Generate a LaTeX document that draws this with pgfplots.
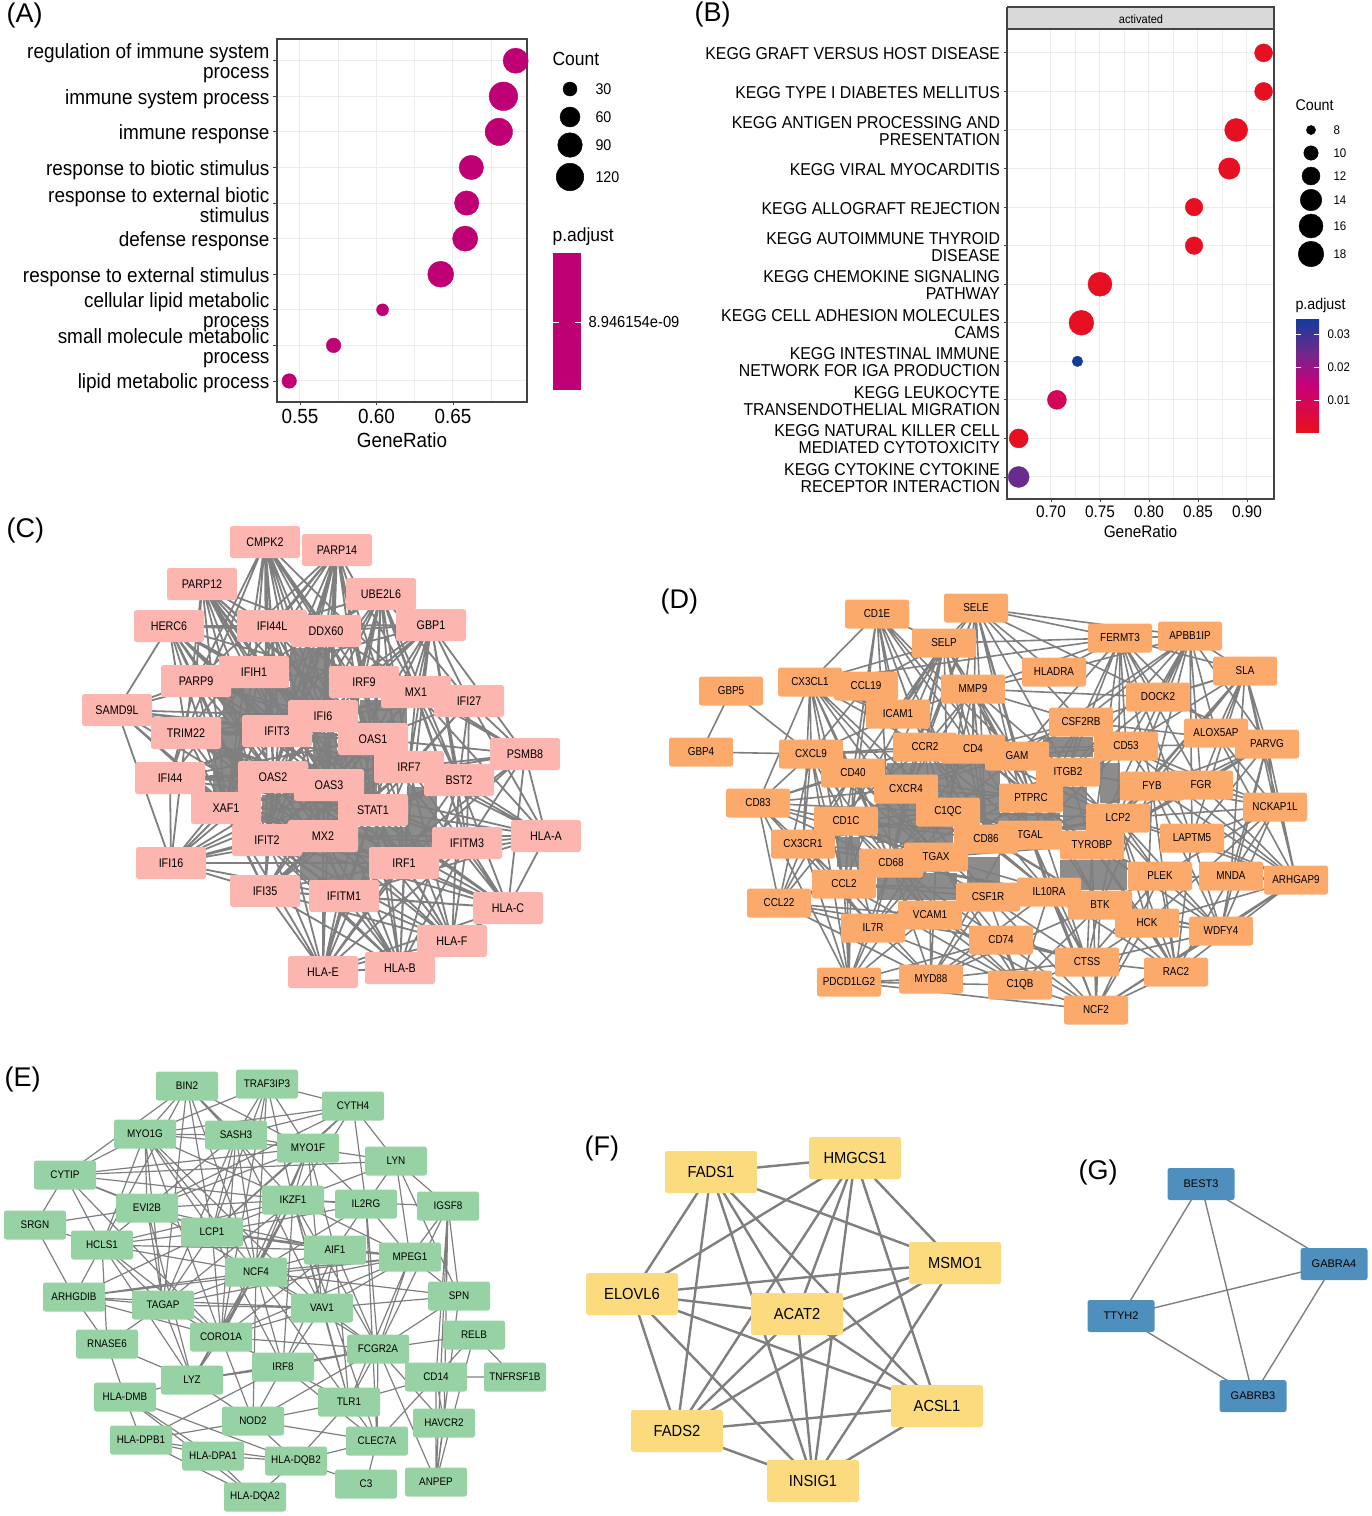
\documentclass[border=0pt]{standalone}
\usepackage{pgfplots}
\pgfplotsset{compat=1.18}
\usepackage{fontspec}
\setmainfont{Liberation Sans}
\newfontfamily\cond[FakeStretch=0.92]{Liberation Sans}
\newfontfamily\narrow[FakeStretch=0.86]{Liberation Sans}
\newfontfamily\semi[FakeStretch=0.9]{Liberation Sans}
\newcommand\fs[1]{\fontsize{#1}{#1}\selectfont}
\definecolor{edge}{HTML}{7F7F7F}
\definecolor{blob}{HTML}{8C8C8C}
\definecolor{fr}{HTML}{444444}
\definecolor{gr}{HTML}{EBEBEB}
\definecolor{mag}{HTML}{BE0074}
\definecolor{cpink}{HTML}{FDB5B0}
\definecolor{corange}{HTML}{FCAA6C}
\definecolor{cgreen}{HTML}{97D2A4}
\definecolor{cyellow}{HTML}{FCDB7E}
\definecolor{cblue}{HTML}{4F8FBE}
\pgfplotsset{
  bub/.style={scatter,only marks,mark=*,
    visualization depends on={\thisrow{r}\as\rr},
    scatter/@pre marker code/.append style={/tikz/mark size=\rr pt}},
  patch/.style={fill=blob,draw=none,mark=none},
  net/.style n args={4}{draw=none,mark=none,point meta=explicit symbolic,
    nodes near coords,nodes near coords align=center,
    every node near coord/.append style={anchor=center,fill=#1,rounded corners=2.5pt,inner sep=0pt,
      minimum width=#2pt,minimum height=#3pt,text=black,font=#4}},
  dot/.style={axis line style={color=fr,line width=1.1pt},
    tick style={color=fr,line width=.8pt},major tick length=3.5pt,tick align=outside,
    xtick pos=bottom,ytick pos=left,
    grid=major,major grid style={color=gr,line width=1pt},
    minor tick length=0pt,minor grid style={color=gr,line width=.5pt},xminorgrids=true,
    yticklabel style={align=right}}
}
\begin{document}
\begin{tikzpicture}
\path[use as bounding box] (0,0) rectangle (1372pt,1516pt);
\begin{axis}[at={(0,0)},anchor=south west,width=1372pt,height=1516pt,scale only axis,
  hide axis,clip=false,xmin=0,xmax=1372,ymin=0,ymax=1516,y dir=reverse]

% panel letters
\node[anchor=west,font=\fs{27}] at (axis cs:3,16) {(A)};
\node[anchor=west,font=\fs{27}] at (axis cs:691,15) {(B)};
\node[anchor=west,font=\fs{27}] at (axis cs:3,531) {(C)};
\node[anchor=west,font=\fs{27}] at (axis cs:657,602) {(D)};
\node[anchor=west,font=\fs{27}] at (axis cs:1,1079) {(E)};
\node[anchor=west,font=\fs{27}] at (axis cs:581,1148) {(F)};
\node[anchor=west,font=\fs{27}] at (axis cs:1075,1172) {(G)};

% legends of panel A
\node[anchor=west,font=\cond\fs{19}] at (axis cs:549,59) {Count};
\addplot[scatter/use mapped color={draw=black,fill=black},bub] table {
x y r
570 89 7
570 117 10
570 145 12.3
570 177 13.8
};
\node[anchor=west,font=\cond\fs{15.5}] at (axis cs:592,89) {30};
\node[anchor=west,font=\cond\fs{15.5}] at (axis cs:592,117) {60};
\node[anchor=west,font=\cond\fs{15.5}] at (axis cs:592,145) {90};
\node[anchor=west,font=\cond\fs{15.5}] at (axis cs:592,177) {120};
\node[anchor=west,font=\cond\fs{19}] at (axis cs:549,237) {p.adjust};
\addplot[fill=mag,draw=none,mark=none] coordinates {(553,253)(581,253)(581,390)(553,390)};
\addplot[white,line width=.7pt,mark=none] coordinates {(553,322)(559,322)};
\addplot[white,line width=.7pt,mark=none] coordinates {(575,322)(581,322)};
\node[anchor=west,font=\cond\fs{16}] at (axis cs:585,322) {8.946154e-09};

% strip and legends of panel B
\addplot[fill=gray!30,draw=fr,line width=1.1pt,mark=none] coordinates {(1007,7)(1274,7)(1274,29)(1007,29)(1007,7)};
\node[font=\cond\fs{12}] at (axis cs:1141,19) {activated};
\node[anchor=west,font=\cond\fs{15.5}] at (axis cs:1292,105) {Count};
\addplot[scatter/use mapped color={draw=black,fill=black},bub] table {
x y r
1311 130 4.6
1311 153 7.2
1311 176 9
1311 200 10.8
1311 226 12
1311 254 12.8
};
\node[anchor=west,font=\cond\fs{12.5}] at (axis cs:1330,130) {8};
\node[anchor=west,font=\cond\fs{12.5}] at (axis cs:1330,153) {10};
\node[anchor=west,font=\cond\fs{12.5}] at (axis cs:1330,176) {12};
\node[anchor=west,font=\cond\fs{12.5}] at (axis cs:1330,200) {14};
\node[anchor=west,font=\cond\fs{12.5}] at (axis cs:1330,226) {16};
\node[anchor=west,font=\cond\fs{12.5}] at (axis cs:1330,254) {18};
\node[anchor=west,font=\cond\fs{15.5}] at (axis cs:1292,305) {p.adjust};
\shade[bottom color={rgb,255:red,232;green,17;blue,27},top color={rgb,255:red,200;green,0;blue,122}] (axis cs:1296,432) rectangle (axis cs:1319,385);
\shade[bottom color={rgb,255:red,200;green,0;blue,122},top color={rgb,255:red,106;green,42;blue,142}] (axis cs:1296,385.2) rectangle (axis cs:1319,350);
\shade[bottom color={rgb,255:red,106;green,42;blue,142},top color={rgb,255:red,18;green,60;blue,156}] (axis cs:1296,350.2) rectangle (axis cs:1319,319);
\addplot[white,line width=.6pt,mark=none] coordinates {(1296,334)(1301,334)};
\addplot[white,line width=.6pt,mark=none] coordinates {(1314,334)(1319,334)};
\addplot[white,line width=.6pt,mark=none] coordinates {(1296,367)(1301,367)};
\addplot[white,line width=.6pt,mark=none] coordinates {(1314,367)(1319,367)};
\addplot[white,line width=.6pt,mark=none] coordinates {(1296,400)(1301,400)};
\addplot[white,line width=.6pt,mark=none] coordinates {(1314,400)(1319,400)};
\node[anchor=west,font=\cond\fs{12.5}] at (axis cs:1324,334) {0.03};
\node[anchor=west,font=\cond\fs{12.5}] at (axis cs:1324,367) {0.02};
\node[anchor=west,font=\cond\fs{12.5}] at (axis cs:1324,400) {0.01};

% network C
\addplot[patch] coordinates {(290,648)(330,648)(330,702)(290,702)};
\addplot[patch] coordinates {(360,700)(407,700)(407,753)(360,753)};
\addplot[patch] coordinates {(223,687)(290,687)(290,717)(223,717)};
\addplot[patch] coordinates {(213,717)(243,717)(243,793)(213,793)};
\addplot[patch] coordinates {(313,733)(337,733)(337,773)(313,773)};
\addplot[patch] coordinates {(337,753)(377,753)(377,797)(337,797)};
\addplot[patch] coordinates {(262,795)(338,795)(338,823)(262,823)};
\addplot[patch] coordinates {(408,787)(437,787)(437,830)(408,830)};
\addplot[patch] coordinates {(357,827)(433,827)(433,850)(357,850)};
\addplot[patch] coordinates {(300,850)(370,850)(370,880)(300,880)};
\addplot[color=edge,line width=1.8pt,line join=round,mark=none] coordinates {
(265,542)(272,626)(337,550)(254,672)(265,542)(326,631)(337,550)(196,681)(265,542)(364,682)(337,550)(323,716)(265,542)(416,692)(337,550)(279,731)(265,542)(373,739)(337,550)(186,733)(265,542)(409,767)(337,550)(273,777)(265,542)(329,785)(337,550)(226,808)(265,542)(373,810)(337,550)(323,836)(265,542)(267,840)(337,550)(404,863)
(202,584)(272,626)(169,626)(254,672)(202,584)(326,631)(169,626)(196,681)(202,584)(364,682)(169,626)(323,716)(202,584)(279,731)(169,626)(186,733)(202,584)(373,739)(169,626)(409,767)(202,584)(273,777)(169,626)(329,785)(202,584)(226,808)(169,626)(373,810)(202,584)(267,840)(169,626)(323,836)
(381,594)(326,631)(431,625)(416,692)(381,594)(364,682)(431,625)(469,701)(381,594)(323,716)(431,625)(373,739)(381,594)(279,731)(431,625)(409,767)(381,594)(272,626)(431,625)(459,780)(381,594)(254,672)(431,625)(467,843)(381,594)(273,777)(431,625)(329,785)(381,594)(373,810)(431,625)(404,863)(381,594)(323,836)
(169,626)(117,710)(186,733)(170,778)(196,681)(117,710)(254,672)(170,778)(279,731)(117,710)(323,716)(170,778)(273,777)(117,710)(226,808)(170,778)(329,785)(117,710)(373,739)(170,778)(267,840)(117,710)(409,767)(170,778)(323,836)(117,710)(373,810)(170,778)(171,863)(117,710)(171,863)
(226,808)(265,891)(267,840)(171,863)(273,777)(265,891)(323,836)(171,863)(329,785)(265,891)(373,810)(171,863)(186,733)(265,891)(344,896)(171,863)(279,731)(265,891)(404,863)(171,863)(373,739)(265,891)(409,767)(171,863)(267,840)(171,863)(265,891)
(323,972)(344,896)(400,968)(404,863)(323,972)(265,891)(400,968)(373,810)(323,972)(267,840)(400,968)(323,836)(323,972)(329,785)(400,968)(467,843)(323,972)(273,777)(400,968)(409,767)(323,972)(226,808)(400,968)(459,780)(323,972)(373,739)(400,968)(508,908)(323,972)(404,863)(400,968)(452,941)(323,972)(400,968)
(452,941)(404,863)(508,908)(467,843)(452,941)(373,810)(508,908)(459,780)(452,941)(323,836)(508,908)(409,767)(452,941)(329,785)(508,908)(373,739)(452,941)(344,896)(508,908)(273,777)(452,941)(267,840)(508,908)(265,891)(452,941)(508,908)
(546,836)(467,843)(525,754)(459,780)(546,836)(409,767)(525,754)(373,810)(546,836)(404,863)(525,754)(329,785)(546,836)(373,739)(525,754)(323,836)(546,836)(344,896)(525,754)(416,692)(546,836)(508,908)(525,754)(469,701)(546,836)(459,780)(525,754)(409,767)(546,836)(373,810)(525,754)(467,843)(546,836)(525,754)
(469,701)(373,739)(416,692)(409,767)(469,701)(459,780)(416,692)(467,843)(469,701)(323,716)(416,692)(364,682)(469,701)(409,767)(416,692)(459,780)(469,701)(373,810)(431,625)(525,754)
(326,631)(323,716)(272,626)(279,731)(326,631)(373,739)(272,626)(364,682)(254,672)(323,716)(326,631)(273,777)(272,626)(329,785)(254,672)(373,739)(364,682)(279,731)(326,631)(329,785)(272,626)(323,836)(254,672)(323,836)(326,631)(267,840)(323,716)(329,785)(373,739)(267,840)(364,682)(273,777)(326,631)(373,810)(272,626)(226,808)(254,672)(226,808)(196,681)(323,716)(186,733)(373,739)(196,681)(279,731)(186,733)(273,777)(196,681)(329,785)(186,733)(373,810)(196,681)(267,840)(186,733)(323,836)(226,808)(373,810)(273,777)(267,840)(329,785)(226,808)(323,836)(373,810)(373,739)(226,808)(409,767)(267,840)(409,767)(323,836)(404,863)(267,840)(373,810)(404,863)(329,785)(404,863)(344,896)(323,836)(467,843)(373,810)(459,780)(409,767)(373,739)(416,692)(279,731)(364,682)(329,785)(416,692)(323,716)(373,739)(459,780)(273,777)(409,767)(329,785)(467,843)(323,836)(459,780)(267,840)(404,863)(273,777)(467,843)(373,810)(344,896)(267,840)(344,896)(226,808)
};
\addplot[net={cpink}{70}{32}{\narrow\fs{12.5}},table/meta=n] table {
x y n
265 542 CMPK2
337 550 PARP14
202 584 PARP12
381 594 UBE2L6
169 626 HERC6
272 626 IFI44L
326 631 DDX60
431 625 GBP1
196 681 PARP9
254 672 IFIH1
364 682 IRF9
416 692 MX1
469 701 IFI27
117 710 SAMD9L
323 716 IFI6
277 731 IFIT3
186 733 TRIM22
373 739 OAS1
525 754 PSMB8
409 767 IRF7
459 780 BST2
170 778 IFI44
273 777 OAS2
329 785 OAS3
226 808 XAF1
373 810 STAT1
546 836 HLA-A
467 843 IFITM3
267 840 IFIT2
323 836 MX2
171 863 IFI16
404 863 IRF1
265 891 IFI35
344 896 IFITM1
508 908 HLA-C
452 941 HLA-F
323 972 HLA-E
400 968 HLA-B
};

% network D
\addplot[patch] coordinates {(877,803)(953,803)(953,843)(877,843)};
\addplot[patch] coordinates {(837,837)(860,837)(860,867)(837,867)};
\addplot[patch] coordinates {(877,873)(957,873)(957,900)(877,900)};
\addplot[patch] coordinates {(937,763)(1000,763)(1000,823)(937,823)};
\addplot[patch] coordinates {(887,763)(937,763)(937,777)(887,777)};
\addplot[patch] coordinates {(967,857)(1000,857)(1000,883)(967,883)};
\addplot[patch] coordinates {(1043,737)(1093,737)(1093,757)(1043,757)};
\addplot[patch] coordinates {(1063,787)(1087,787)(1087,830)(1063,830)};
\addplot[patch] coordinates {(1100,763)(1120,763)(1120,803)(1100,803)};
\addplot[patch] coordinates {(1000,813)(1060,813)(1060,825)(1000,825)};
\addplot[patch] coordinates {(1060,860)(1127,860)(1127,890)(1060,890)};
\addplot[color=edge,line width=1.6pt,line join=round,mark=none] coordinates {
(701,752)(731,691)(811,754)(701,752)
};
\addplot[color=edge,line width=1.6pt,line join=round,mark=none] coordinates {
(877,614)(866,686)(944,643)(898,714)(877,614)(925,747)(944,643)(853,773)(877,614)(906,789)(944,643)(846,821)(877,614)(973,749)(944,643)(948,812)(877,614)(986,839)(944,643)(891,863)(877,614)(1017,756)(944,643)(844,884)(877,614)(1031,798)(944,643)(810,682)(877,614)(944,643)(1120,638)(1190,636)
(976,608)(898,714)(973,689)(925,747)(976,608)(906,789)(973,689)(973,749)(976,608)(948,812)(973,689)(1017,756)(976,608)(1054,672)(973,689)(1068,772)(976,608)(1120,638)(973,689)(1081,722)(976,608)(1031,798)(973,689)(986,839)(976,608)(1030,835)(973,689)(1158,697)(976,608)(944,643)
(810,682)(866,686)(811,754)(898,714)(810,682)(925,747)(811,754)(853,773)(810,682)(906,789)(811,754)(846,821)(810,682)(948,812)(811,754)(973,749)(810,682)(936,857)(811,754)(891,863)(810,682)(803,844)(811,754)(844,884)(810,682)(758,803)(811,754)(810,682)
(1120,638)(1054,672)(1190,636)(1081,722)(1120,638)(1158,697)(1190,636)(1126,746)(1120,638)(1017,756)(1190,636)(1068,772)(1120,638)(1152,786)(1190,636)(1118,818)(1120,638)(1245,671)(1190,636)(1216,733)(1120,638)(1201,785)(1190,636)(1092,845)(1120,638)(1192,838)(1190,636)(1267,744)
(1245,671)(1158,697)(1267,744)(1216,733)(1245,671)(1126,746)(1267,744)(1081,722)(1245,671)(1152,786)(1267,744)(1201,785)(1245,671)(1118,818)(1267,744)(1275,807)(1245,671)(1192,838)(1267,744)(1296,880)(1245,671)(1231,876)(1267,744)(1092,845)(1245,671)(1275,807)
(1201,785)(1296,880)(1216,733)(1275,807)(1152,786)(1296,880)(1192,838)(1275,807)(1160,876)(1296,880)(1231,876)(1275,807)(1221,931)(1296,880)(1118,818)(1275,807)(1147,923)(1296,880)(1126,746)(1275,807)(1267,744)
(1221,931)(1231,876)(1176,972)(1160,876)(1221,931)(1192,838)(1176,972)(1147,923)(1221,931)(1100,905)(1176,972)(1092,845)(1221,931)(1118,818)(1176,972)(1049,892)(1221,931)(1087,962)(1176,972)(1152,786)(1221,931)(1096,1010)(1176,972)(1296,880)
(1096,1010)(1020,985)(1087,962)(1001,940)(1096,1010)(1100,905)(1087,962)(1147,923)(1096,1010)(1049,892)(1087,962)(1030,835)(1096,1010)(988,897)(1087,962)(1092,845)(1096,1010)(1160,876)(1087,962)(1176,972)(1096,1010)(930,915)(1087,962)(1031,798)
(931,979)(873,928)(1020,985)(930,915)(931,979)(988,897)(1020,985)(1001,940)(931,979)(891,863)(1020,985)(936,857)(931,979)(1100,905)(1020,985)(1049,892)(931,979)(1087,962)(1020,985)(849,982)(931,979)(844,884)(1020,985)(1096,1010)
(849,982)(873,928)(779,903)(844,884)(849,982)(930,915)(779,903)(891,863)(849,982)(846,821)(779,903)(803,844)(849,982)(936,857)(779,903)(1001,940)(849,982)(931,979)(779,903)(758,803)(849,982)(853,773)(779,903)(811,754)(849,982)
(758,803)(811,754)(803,844)(853,773)(758,803)(846,821)(803,844)(906,789)(758,803)(844,884)(803,844)(891,863)(758,803)(948,812)(803,844)(779,903)(758,803)(873,928)(803,844)(925,747)(758,803)(936,857)(803,844)
(906,789)(891,863)(948,812)(846,821)(936,857)(853,773)(986,839)(925,747)(1030,835)(973,749)(1031,798)(1017,756)(1068,772)(1092,845)(1118,818)(1100,905)(1049,892)(988,897)(930,915)(891,863)(1001,940)(936,857)(986,839)(948,812)(1030,835)(906,789)(1031,798)(853,773)(936,857)(925,747)(891,863)(973,749)(986,839)(846,821)(988,897)(844,884)(1049,892)(891,863)(1100,905)(936,857)(1092,845)(986,839)(1068,772)(948,812)(1017,756)(906,789)(1081,722)(973,749)(1126,746)(1031,798)(1118,818)(1030,835)(1152,786)(1068,772)(1160,876)(1092,845)(1147,923)(1049,892)(1087,962)(988,897)(1020,985)(930,915)(931,979)(891,863)(873,928)(936,857)(844,884)(948,812)(873,928)(846,821)(930,915)(853,773)(891,863)(846,821)(936,857)
(986,839)(1049,892)(1030,835)(1092,845)(1031,798)(1100,905)(1017,756)(1118,818)(973,749)(1092,845)(925,747)(1049,892)(948,812)(1100,905)(906,789)(988,897)(853,773)(1030,835)(846,821)(986,839)(891,863)(1068,772)(936,857)(1031,798)(948,812)(1118,818)(986,839)(1126,746)(1030,835)(1081,722)(1031,798)(1092,845)(1152,786)(1118,818)(1192,838)(1126,746)(1201,785)(1092,845)(1160,876)(1118,818)(1147,923)(1152,786)(1100,905)(1160,876)(1068,772)(1081,722)(1017,756)(1126,746)(1068,772)(1158,697)
};
\addplot[net={corange}{64}{29}{\narrow\fs{11.5}},table/meta=n] table {
x y n
877 614 CD1E
976 608 SELE
944 643 SELP
810 682 CX3CL1
866 686 CCL19
973 689 MMP9
898 714 ICAM1
731 691 GBP5
701 752 GBP4
811 754 CXCL9
925 747 CCR2
973 749 CD4
853 773 CD40
906 789 CXCR4
758 803 CD83
948 812 C1QC
846 821 CD1C
803 844 CX3CR1
1030 835 TGAL
986 839 CD86
891 863 CD68
936 857 TGAX
844 884 CCL2
779 903 CCL22
988 897 CSF1R
930 915 VCAM1
873 928 IL7R
1001 940 CD74
849 982 PDCD1LG2
931 979 MYD88
1020 985 C1QB
1120 638 FERMT3
1190 636 APBB1IP
1054 672 HLADRA
1245 671 SLA
1158 697 DOCK2
1081 722 CSF2RB
1126 746 CD53
1267 744 PARVG
1216 733 ALOX5AP
1017 756 GAM
1068 772 ITGB2
1152 786 FYB
1201 785 FGR
1031 798 PTPRC
1275 807 NCKAP1L
1118 818 LCP2
1192 838 LAPTM5
1092 845 TYROBP
1160 876 PLEK
1231 876 MNDA
1296 880 ARHGAP9
1049 892 IL10RA
1100 905 BTK
1147 923 HCK
1221 931 WDFY4
1087 962 CTSS
1176 972 RAC2
1096 1010 NCF2
};

% network E
\addplot[color=edge,line width=1.2pt,line join=round,mark=none] coordinates {
(65,1175)(187,1086)(145,1134)(267,1084)(236,1135)(187,1086)(308,1148)(267,1084)(353,1106)(308,1148)(236,1135)(353,1106)(145,1134)(236,1135)(187,1086)(212,1232)(145,1134)(256,1272)(187,1086)(293,1200)(267,1084)(212,1232)(236,1135)(256,1272)(308,1148)(293,1200)(353,1106)(396,1161)(448,1206)(459,1296)(410,1257)(448,1206)(378,1349)(459,1296)
(396,1161)(366,1204)(353,1106)(366,1204)(410,1257)(293,1200)(366,1204)(335,1250)(410,1257)(378,1349)(366,1204)(308,1148)(335,1250)(322,1308)(293,1200)(256,1272)(335,1250)(212,1232)(293,1200)(221,1337)(308,1148)(322,1308)(236,1135)(221,1337)(293,1200)(65,1175)
(35,1225)(74,1297)(102,1245)(35,1225)(147,1208)(65,1175)(102,1245)(145,1134)(147,1208)(236,1135)(102,1245)(187,1086)(163,1305)(145,1134)(221,1337)(65,1175)(212,1232)(102,1245)(256,1272)(74,1297)(212,1232)(163,1305)(256,1272)(221,1337)(212,1232)(74,1297)(163,1305)(102,1245)(107,1344)(74,1297)(221,1337)(102,1245)(192,1380)(163,1305)(221,1337)(283,1367)(256,1272)(349,1402)(293,1200)(163,1305)(74,1297)(322,1308)(163,1305)(107,1344)(192,1380)(107,1344)(125,1397)(141,1440)
(213,1456)(296,1461)(125,1397)(255,1497)(141,1440)(296,1461)(255,1497)(213,1456)(125,1397)(192,1380)(283,1367)(378,1349)(192,1380)(253,1421)(283,1367)(349,1402)(378,1349)(377,1441)(283,1367)(141,1440)(253,1421)(349,1402)(377,1441)(253,1421)(296,1461)(349,1402)(436,1377)(378,1349)(474,1335)(515,1377)(436,1377)(444,1423)(378,1349)(436,1482)(444,1423)(448,1206)(436,1482)(459,1296)(378,1349)(253,1421)(377,1441)(366,1484)(296,1461)(377,1441)(436,1377)(474,1335)(436,1482)(436,1377)(448,1206)
(410,1257)(322,1308)(459,1296)(256,1272)(322,1308)(349,1402)(410,1257)(221,1337)(335,1250)(283,1367)(256,1272)(378,1349)(335,1250)(349,1402)(293,1200)(283,1367)(212,1232)(283,1367)(322,1308)(378,1349)(366,1204)(377,1441)(293,1200)(192,1380)(256,1272)(253,1421)(221,1337)(192,1380)(147,1208)(293,1200)(102,1245)(335,1250)(147,1208)(212,1232)(145,1134)(293,1200)(163,1305)(410,1257)(74,1297)(256,1272)(147,1208)(163,1305)(236,1135)(322,1308)(145,1134)(308,1148)(396,1161)(293,1200)(448,1206)(378,1349)(322,1308)(221,1337)(378,1349)(293,1200)(410,1257)(256,1272)(267,1084)(221,1337)(65,1175)(308,1148)(147,1208)(353,1106)(212,1232)(308,1148)(256,1272)(366,1204)(212,1232)(410,1257)(396,1161)(65,1175)(145,1134)
};
\addplot[net={cgreen}{62}{29}{\semi\fs{11}},table/meta=n] table {
x y n
187 1086 BIN2
267 1084 TRAF3IP3
353 1106 CYTH4
145 1134 MYO1G
236 1135 SASH3
308 1148 MYO1F
396 1161 LYN
65 1175 CYTIP
147 1208 EVI2B
293 1200 IKZF1
366 1204 IL2RG
448 1206 IGSF8
35 1225 SRGN
212 1232 LCP1
102 1245 HCLS1
335 1250 AIF1
410 1257 MPEG1
256 1272 NCF4
74 1297 ARHGDIB
163 1305 TAGAP
322 1308 VAV1
459 1296 SPN
107 1344 RNASE6
221 1337 CORO1A
378 1349 FCGR2A
474 1335 RELB
283 1367 IRF8
192 1380 LYZ
436 1377 CD14
515 1377 TNFRSF1B
125 1397 HLA-DMB
349 1402 TLR1
444 1423 HAVCR2
253 1421 NOD2
141 1440 HLA-DPB1
377 1441 CLEC7A
213 1456 HLA-DPA1
296 1461 HLA-DQB2
366 1484 C3
436 1482 ANPEP
255 1497 HLA-DQA2
};

% network F
\addplot[color=edge,line width=2.4pt,line join=round,mark=none] coordinates {
(632,1294)(711,1172)(855,1158)(632,1294)(955,1263)(855,1158)(677,1431)(711,1172)(813,1481)(855,1158)(797,1314)(711,1172)(955,1263)(797,1314)(632,1294)(937,1406)(711,1172)(937,1406)(797,1314)(677,1431)(955,1263)(813,1481)(797,1314)(855,1158)(937,1406)(677,1431)(632,1294)(813,1481)(937,1406)(813,1481)(677,1431)
};
\addplot[net={cyellow}{92}{42}{\cond\fs{16}},table/meta=n] table {
x y n
711 1172 FADS1
855 1158 HMGCS1
955 1263 MSMO1
632 1294 ELOVL6
797 1314 ACAT2
937 1406 ACSL1
677 1431 FADS2
813 1481 INSIG1
};

% network G
\addplot[color=edge,line width=1.4pt,line join=round,mark=none] coordinates {
(1201,1184)(1334,1264)(1121,1316)(1201,1184)(1253,1396)(1334,1264)
};
\addplot[color=edge,line width=1.4pt,line join=round,mark=none] coordinates {
(1121,1316)(1253,1396)
};
\addplot[net={cblue}{67}{32}{\fs{11}},table/meta=n] table {
x y n
1201 1184 BEST3
1334 1264 GABRA4
1121 1316 TTYH2
1253 1396 GABRB3
};
\end{axis}

% panel A
\begin{axis}[dot,at={(277pt,1114pt)},anchor=south west,width=250pt,height=363pt,scale only axis,
  xmin=0.535,xmax=0.6984,ymin=0.41,ymax=10.61,
  xtick={0.55,0.60,0.65},xticklabels={0.55,0.60,0.65},minor xtick={0.575,0.625,0.675},
  ytick={1,...,10},
  yticklabels={lipid metabolic process,{small molecule metabolic\\process},{cellular lipid metabolic\\process},response to external stimulus,defense response,{response to external biotic\\stimulus},response to biotic stimulus,immune response,immune system process,{regulation of immune system\\process}},
  yticklabel style={font=\cond\fontsize{20.6}{20}\selectfont,yshift=-2.5pt,xshift=-.5pt},
  xticklabel style={font=\cond\fs{20.5}},
  xlabel={GeneRatio},xlabel style={font=\cond\fs{20.5},yshift=-2pt}]
\addplot[scatter/use mapped color={draw=mag,fill=mag},bub] table {
x y r
0.543 1 7.3
0.572 2 7.3
0.604 3 6
0.642 4 13
0.658 5 12.6
0.659 6 12.2
0.662 7 12.2
0.680 8 13.7
0.683 9 14.3
0.691 10 12.6
};
\end{axis}

% panel B
\begin{axis}[dot,at={(1007pt,1017pt)},anchor=south west,width=267pt,height=470pt,scale only axis,
  xmin=0.6551,xmax=0.9276,ymin=0.429,ymax=12.62,
  xtick={0.70,0.75,0.80,0.85,0.90},xticklabels={0.70,0.75,0.80,0.85,0.90},
  minor xtick={0.725,0.775,0.825,0.875},
  ytick={1,...,12},
  yticklabels={{KEGG CYTOKINE CYTOKINE\\RECEPTOR INTERACTION},{KEGG NATURAL KILLER CELL\\MEDIATED CYTOTOXICITY},{KEGG LEUKOCYTE\\TRANSENDOTHELIAL MIGRATION},{KEGG INTESTINAL IMMUNE\\NETWORK FOR IGA PRODUCTION},{KEGG CELL ADHESION MOLECULES\\CAMS},{KEGG CHEMOKINE SIGNALING\\PATHWAY},{KEGG AUTOIMMUNE THYROID\\DISEASE},KEGG ALLOGRAFT REJECTION,KEGG VIRAL MYOCARDITIS,{KEGG ANTIGEN PROCESSING AND\\PRESENTATION},KEGG TYPE I DIABETES MELLITUS,KEGG GRAFT VERSUS HOST DISEASE},
  yticklabel style={font=\cond\fontsize{17.2}{17}\selectfont,yshift=-1pt},
  xticklabel style={font=\cond\fs{16.7}},
  xlabel={GeneRatio},xlabel style={font=\cond\fs{16.7},yshift=-1pt},
  colormap={padj}{rgb255(0pt)=(232,17,27); rgb255(14pt)=(200,0,122); rgb255(25pt)=(106,42,142); rgb255(35pt)=(18,60,156)},
  point meta min=0,point meta max=0.035]
\addplot[scatter/use mapped color={draw=mapped color,fill=mapped color},bub,point meta=explicit] table[meta=p] {
x y r p
0.667 1 10.5 0.025
0.667 2 9.5 0.001
0.706 3 9.5 0.009
0.727 4 5.3 0.035
0.731 5 12.4 0.001
0.750 6 12 0.001
0.846 7 8.8 0.001
0.846 8 8.8 0.001
0.882 9 10.7 0.001
0.889 10 11.5 0.001
0.917 11 9 0.001
0.917 12 9 0.001
};
\end{axis}
\end{tikzpicture}
\end{document}
